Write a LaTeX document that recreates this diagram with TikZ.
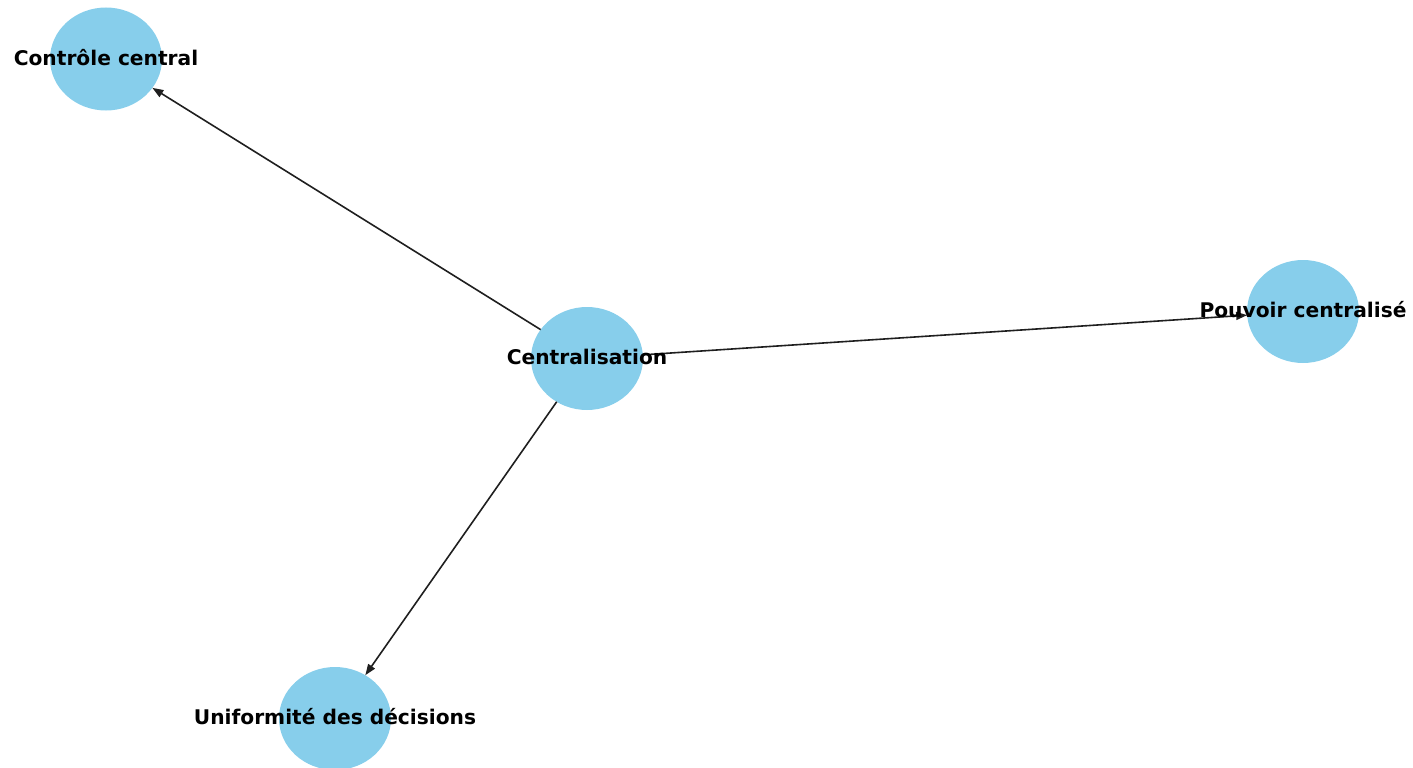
\documentclass[tikz,border=0pt]{standalone}
\usepackage{fontspec}
\setmainfont{DejaVu Sans}
\usetikzlibrary{arrows.meta,shapes.geometric}
\definecolor{skyblue}{RGB}{135,206,235}

\begin{document}
\begin{tikzpicture}[x=1pt,y=-1pt,
        bubble/.style={ellipse,fill=skyblue,minimum width=112pt,minimum height=103pt,inner sep=0pt,outer sep=0pt},
        lbl/.style={font=\bfseries\fontsize{20.2}{24}\selectfont,inner sep=0pt,yshift=1.5pt},
        link/.style={-{Triangle[length=11pt,width=8pt]},line width=1.6pt,black!88}]
        \useasboundingbox (0,0) rectangle (1413,768);
        \node[bubble] (centre) at (587,358.5) {};
        \node[bubble] (controle) at (106,59) {};
        \node[bubble] (pouvoir) at (1303,311.5) {};
        \node[bubble] (uniformite) at (335,718.5) {};
        \draw[link] (centre) -- (controle);
        \draw[link] (centre) -- (pouvoir);
        \draw[link] (centre) -- (uniformite);
        % labels on top of the edges
        \node[lbl] (tcentre) at (centre.center) {Centralisation};
        \node[lbl] (tcontrole) at (controle.center) {Contrôle central};
        \node[lbl] (tpouvoir) at (pouvoir.center) {Pouvoir centralisé};
        \node[lbl] (tuniformite) at (uniformite.center) {Uniformité des décisions};
      \end{tikzpicture}
\end{document}
